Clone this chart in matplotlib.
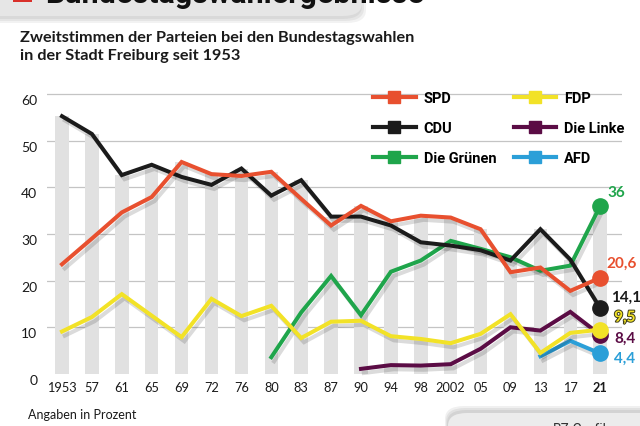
import numpy as np
import matplotlib
matplotlib.use("Agg")
import matplotlib.pyplot as plt
import matplotlib.patheffects as pe
from matplotlib.lines import Line2D
from matplotlib.patches import FancyBboxPatch
from matplotlib.transforms import ScaledTranslation

years = ['1953', '57', '61', '65', '69', '72', '76', '80', '83', '87',
         '90', '94', '98', '2002', '05', '09', '13', '17', '21']

spd = [23.5, 29.0, 34.6, 37.9, 45.4, 42.8, 42.4, 43.3, 37.5, 31.8,
       36.0, 32.7, 33.9, 33.5, 31.0, 21.8, 22.8, 17.8, 20.6]
cdu = [55.2, 51.4, 42.6, 44.8, 42.2, 40.5, 44.0, 38.2, 41.5, 33.7,
       33.7, 31.8, 28.2, 27.5, 26.5, 24.3, 31.0, 24.5, 14.1]
gruene = [None] * 7 + [3.6, 13.2, 21.0, 12.6, 21.9, 24.3, 28.5, 26.8,
                       25.0, 22.1, 23.2, 36.0]
fdp = [9.1, 12.2, 17.1, 12.5, 7.9, 16.1, 12.4, 14.6, 7.7, 11.2,
       11.4, 8.1, 7.5, 6.6, 8.6, 12.8, 4.5, 8.8, 9.5]
linke = [None] * 10 + [1.1, 1.9, 1.8, 2.1, 5.4, 10.0, 9.3, 13.3, 8.4]
afd = [None] * 16 + [3.8, 7.1, 4.4]

labels_end = {'Die Grünen': '36', 'SPD': '20,6', 'CDU': '14,1',
              'FDP': '9,5', 'Die Linke': '8,4', 'AFD': '4,4'}

colors = {'SPD': '#e8502f', 'CDU': '#1b1b1b', 'Die Grünen': '#1fa54b',
          'FDP': '#f2e227', 'Die Linke': '#5b0c45', 'AFD': '#2b9fd8'}

narrow = ['Lato', 'DejaVu Sans']
bold = ['Roboto', 'DejaVu Sans']

W, H = 640, 427
fig = plt.figure(figsize=(6.4, 4.27), dpi=100)


def fx(px):
    return px / W


def fy(py):
    return 1 - py / H


# axes placed in pixel space: index i -> 62 + 29.9 i, value v -> 375 - 4.67 v
x0, x1 = 47, 622
ax = fig.add_axes([fx(x0), fy(375), fx(x1 - x0), (375 - 85) / H])
ax.set_xlim((x0 - 62) / 29.9, (x1 - 62) / 29.9)
ax.set_ylim(0, (375 - 85) / 4.67)
for s in ax.spines.values():
    s.set_visible(False)

ind = np.arange(len(years))
series = {'SPD': spd, 'CDU': cdu, 'Die Grünen': gruene, 'FDP': fdp,
          'Die Linke': linke, 'AFD': afd}

# grey column behind each election, up to the highest party share
tops = [max(v[i] for v in series.values() if v[i] is not None) for i in ind]
ax.bar(ind, tops, 0.45, color='#e1e1e1', zorder=1)

ax.yaxis.grid(True, color='#c4c4c4', linewidth=0.9, zorder=0)
ax.set_axisbelow(True)
ax.tick_params(length=0)
ax.set_yticks([0, 10, 20, 30, 40, 50, 60])
ax.set_yticklabels(['0', '10', '20', '30', '40', '50', '60'],
                   family=narrow, fontsize=10, color='#1a1a1a')
ax.tick_params(axis='y', pad=7)
ax.set_xticks(ind)
ax.set_xticklabels(years, family=narrow, fontsize=9.2, color='#1a1a1a')
ax.get_xticklabels()[-1].set_fontweight('bold')
ax.tick_params(axis='x', pad=5)
for lab in ax.get_yticklabels():
    lab.set_transform(lab.get_transform() +
                      ScaledTranslation(0, -5 / 100, fig.dpi_scale_trans))
# hide the gridline at 0
ax.get_ygridlines()[0].set_visible(False)

shadow = [pe.SimpleLineShadow(offset=(2, -3), shadow_color='k', alpha=0.14),
          pe.Normal()]

order = ['AFD', 'Die Linke', 'Die Grünen', 'FDP', 'CDU', 'SPD']
offsets = {'Die Grünen': (7, 14), 'SPD': (6, 15), 'CDU': (11, 11),
           'FDP': (14, 12), 'Die Linke': (14, -3), 'AFD': (14, -4)}
for z, name in enumerate(order):
    vals = np.array([np.nan if v is None else v for v in series[name]])
    c = colors[name]
    ax.plot(ind, vals, color=c, lw=2.9, zorder=3 + z, clip_on=False,
            solid_joinstyle='miter', path_effects=shadow)
    ax.plot(ind[-1], vals[-1], 'o', color=c, ms=11, zorder=3 + z,
            clip_on=False)
    txt = ax.annotate(labels_end[name], (ind[-1], vals[-1]),
                      xytext=offsets[name], textcoords='offset pixels',
                      ha='left', va='center', family=narrow,
                      fontweight='bold', fontsize=11, color=c, zorder=20,
                      annotation_clip=False)
    if name == 'FDP':
        txt.set_path_effects([pe.withStroke(linewidth=1.4,
                                            foreground='#3a3a1a')])

handles = [Line2D([], [], color=colors[n], lw=3, marker='s', ms=9)
           for n in ['SPD', 'CDU', 'Die Grünen', 'FDP', 'Die Linke', 'AFD']]
leg = fig.legend(handles, ['SPD', 'CDU', 'Die Grünen', 'FDP', 'Die Linke',
                           'AFD'], ncol=2, frameon=False,
                 loc='upper left', bbox_to_anchor=(fx(366), fy(85)),
                 handlelength=2.9, handletextpad=0.55, columnspacing=1.2,
                 labelspacing=1.1, borderpad=0,
                 prop={'family': bold, 'weight': 'bold', 'size': 10.5})

fig.text(fx(20), fy(31), 'Zweitstimmen der Parteien bei den Bundestagswahlen\n'
         'in der Stadt Freiburg seit 1953', family=narrow, fontweight='bold',
         fontsize=11.7, va='top', ha='left', linespacing=1.4,
         color='#1a1a1a')

fig.text(fx(28), fy(415), 'Angaben in Prozent', family=narrow, fontsize=9,
         va='center', ha='left', color='#1a1a1a')

# header box, cut at the top edge
for k in range(3):
    fig.patches.append(FancyBboxPatch(
        (fx(-20), fy(18 + 2 * (k + 1))), fx(382 + 2 * k), 40 / H,
        boxstyle='round,pad=0,rounding_size=0.03', transform=fig.transFigure,
        facecolor='k', edgecolor='none', alpha=0.05, zorder=0))
fig.patches.append(FancyBboxPatch(
    (fx(-20), fy(17)), fx(382), 40 / H,
    boxstyle='round,pad=0,rounding_size=0.03', transform=fig.transFigure,
    facecolor='#e6e6e6', edgecolor='none', zorder=1))
fig.patches.append(plt.Rectangle((fx(13), fy(3)), fx(19), 20 / H,
                                 transform=fig.transFigure,
                                 facecolor='#d9302a', zorder=2))
fig.text(fx(45), fy(3), 'Bundestagswahlergebnisse', family=bold,
         fontweight='bold', fontsize=22, va='baseline', ha='left',
         color='#111111', zorder=3)

# footer box, cut at the bottom edge
for k in range(3):
    fig.patches.append(FancyBboxPatch(
        (fx(447 - k), fy(460)), fx(220), (460 - 411 + k * 2) / H,
        boxstyle='round,pad=0,rounding_size=0.03', transform=fig.transFigure,
        facecolor='k', edgecolor='none', alpha=0.06, zorder=0))
fig.patches.append(FancyBboxPatch(
    (fx(448), fy(460)), fx(220), (460 - 414) / H,
    boxstyle='round,pad=0,rounding_size=0.03', transform=fig.transFigure,
    facecolor='#ececec', edgecolor='none', zorder=1))
fig.text(fx(553), fy(423.5), 'BZ-Grafik', family=bold, fontsize=10,
         va='top', ha='left', color='#333333', zorder=3)

fig.savefig('out.png', dpi=100)
